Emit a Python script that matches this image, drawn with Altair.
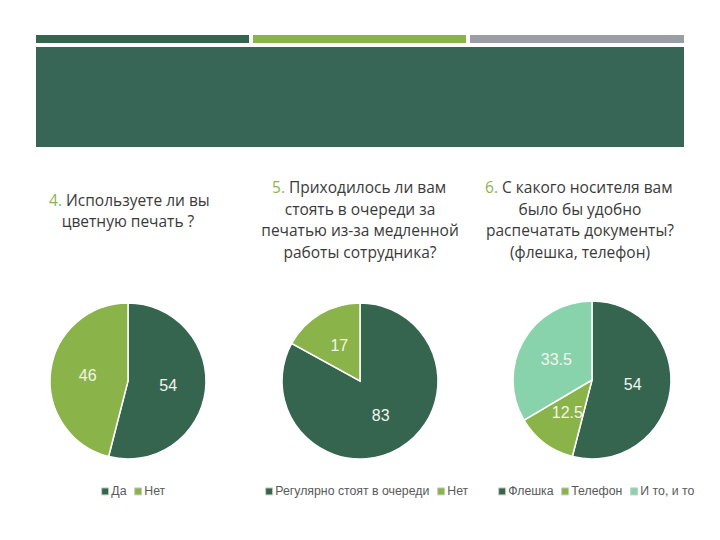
import altair as alt
import pandas as pd

# ---------------- data ----------------
q4_cats = ["Да", "Нет"]
q4_vals = [54, 46]
q5_cats = ["Регулярно стоят в очереди", "Нет"]
q5_vals = [83, 17]
q6_cats = ["Флешка", "Телефон", "И то, и то"]
q6_vals = [54, 12.5, 33.5]

q4_num = "4."
q4_first = "Используете ли вы"
q4_rest = ["цветную печать ?"]
q5_num = "5."
q5_first = "Приходилось ли вам"
q5_rest = ["стоять в очереди за", "печатью из-за медленной", "работы сотрудника?"]
q6_num = "6."
q6_first = "С какого носителя вам"
q6_rest = ["было бы удобно", "распечатать документы?", "(флешка, телефон)"]

# ---------------- style ----------------
DARK = "#35654F"
GREEN = "#8AB34A"
TEAL = "#88D3AB"
GRAY_BAR = "#9A9FA6"
TITLE_C = "#3A3A3A"
NUM_C = "#8DB255"
TITLE_FONT = "Open Sans"
LAB_FONT = "Liberation Sans"
TFS = 15.5

one = pd.DataFrame({"k": [0]})


def rect(x1, x2, y1, y2, color):
    return alt.Chart(one).mark_rect(color=color).encode(
        x=alt.value(x1), x2=alt.value(x2), y=alt.value(y1), y2=alt.value(y2)
    )


header = [
    rect(36, 249, 35, 43, DARK),
    rect(253, 466, 35, 43, GREEN),
    rect(470, 684, 35, 43, GRAY_BAR),
    rect(36, 684, 47, 147, "#376656"),
]


def pie(cats, vals, colors, cx, cy, r, lx, ly):
    df = pd.DataFrame({"cat": cats, "value": vals, "idx": list(range(len(cats)))})
    base = alt.Chart(df).encode(
        theta=alt.Theta("value:Q", stack=True),
        order=alt.Order("idx:Q"),
        x=alt.value(cx),
        y=alt.value(cy),
    )
    arc = base.mark_arc(radius=r, stroke="white", strokeWidth=1.5).encode(
        color=alt.Color(
            "cat:N",
            sort=cats,
            scale=alt.Scale(domain=cats, range=colors),
            legend=alt.Legend(
                orient="none",
                legendX=lx,
                legendY=ly,
                direction="horizontal",
                title=None,
                symbolType="square",
                symbolSize=49,
                symbolStrokeColor="#c8ccc8",
                symbolStrokeWidth=1,
                labelFont=LAB_FONT,
                labelFontSize=12.3,
                labelColor="#595959",
                labelOffset=0,
                columnPadding=5,
                padding=0,
            ),
        )
    )
    txt = base.mark_text(
        radius=r * 0.52, font=LAB_FONT, fontSize=16, color="#F2F5EE",
        align="center", baseline="middle"
    ).encode(text=alt.Text("value:Q"))
    return alt.layer(arc, txt)


pies = [
    pie(q4_cats, q4_vals, [DARK, GREEN], 128, 381, 78, 99, 485),
    pie(q5_cats, q5_vals, [DARK, GREEN], 360, 381, 78, 263, 485),
    pie(q6_cats, q6_vals, [DARK, GREEN, TEAL], 592, 380, 79, 496, 485),
]


def title(num, first, rest, xsplit, cx, y0, lh):
    d1 = pd.DataFrame({"t": [num]})
    d2 = pd.DataFrame({"t": [first]})
    d3 = pd.DataFrame({"t": ["\n".join(rest)]})
    n = alt.Chart(d1).mark_text(
        font=TITLE_FONT, fontSize=TFS, color=NUM_C, align="right", baseline="alphabetic"
    ).encode(text="t:N", x=alt.value(xsplit), y=alt.value(y0))
    f = alt.Chart(d2).mark_text(
        font=TITLE_FONT, fontSize=TFS, color=TITLE_C, align="left", baseline="alphabetic"
    ).encode(text="t:N", x=alt.value(xsplit + 4), y=alt.value(y0))
    r = alt.Chart(d3).mark_text(
        font=TITLE_FONT, fontSize=TFS, color=TITLE_C, align="center", baseline="alphabetic",
        lineBreak="\n", lineHeight=lh
    ).encode(text="t:N", x=alt.value(cx), y=alt.value(y0 + lh))
    return [n, f, r]


titles = (
    title(q4_num, q4_first, q4_rest, 62, 128, 206, 21)
    + title(q5_num, q5_first, q5_rest, 285, 360, 193, 21.7)
    + title(q6_num, q6_first, q6_rest, 498, 580, 193, 21.7)
)

chart = (
    alt.layer(*header, *pies, *titles)
    .resolve_scale(color="independent", theta="independent")
    .properties(width=720, height=540, autosize=alt.AutoSizeParams(type="none"), padding=0,
                background="white")
    .configure_view(strokeWidth=0)
)

chart.save("out.html", embed_options={"renderer": "svg", "actions": False})
